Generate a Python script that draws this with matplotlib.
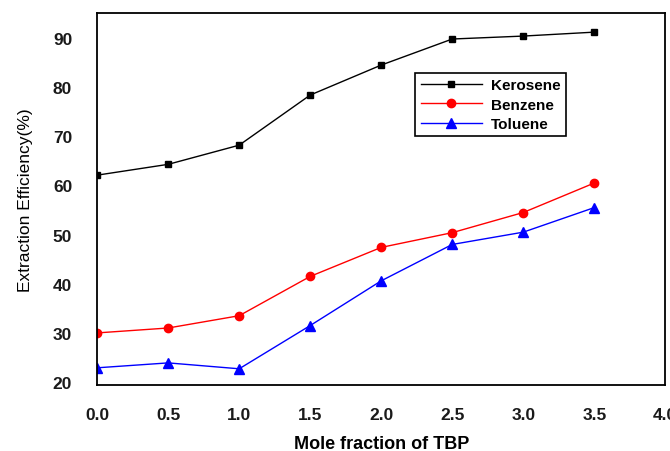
import matplotlib.pyplot as plt

# Mole fraction of TBP vs extraction efficiency
x = [0.0, 0.5, 1.0, 1.5, 2.0, 2.5, 3.0, 3.5]
kerosene = [62.1, 64.3, 68.2, 78.4, 84.5, 89.8, 90.4, 91.2]
benzene = [30.0, 31.0, 33.5, 41.5, 47.4, 50.4, 54.5, 60.5]
toluene = [22.9, 23.9, 22.7, 31.5, 40.6, 48.0, 50.5, 55.5]

xticks = [0.0, 0.5, 1.0, 1.5, 2.0, 2.5, 3.0, 3.5, 4.0]
yticks = [20, 30, 40, 50, 60, 70, 80, 90]

plt.rcParams['font.family'] = ['Liberation Sans', 'DejaVu Sans']

fig = plt.figure(figsize=(6.7, 4.52), dpi=100)
ax = fig.add_axes([0.145, 0.146, 0.848, 0.822])

ax.plot(x, kerosene, color='black', marker='s', markersize=5, linewidth=1, label='Kerosene')
ax.plot(x, benzene, color='red', marker='o', markersize=6, linewidth=1, label='Benzene')
ax.plot(x, toluene, color='blue', marker='^', markersize=7, linewidth=1, label='Toluene')

ax.set_xlim(0, 4.0)
ax.set_ylim(19.4, 95)
ax.set_xticks(xticks)
ax.set_xticklabels([f'{v:.1f}' for v in xticks], fontweight='bold', fontsize=12.5, color='#1a1a1a')
ax.set_yticks(yticks)
ax.set_yticklabels([str(v) for v in yticks], fontweight='bold', fontsize=12.5, color='#1a1a1a')
ax.tick_params(axis='both', length=0)
ax.tick_params(axis='x', pad=16)
ax.tick_params(axis='y', pad=18)

for s in ax.spines.values():
    s.set_linewidth(1.3)

ax.set_xlabel('Mole fraction of TBP', fontweight='bold', fontsize=13, labelpad=9)
ax.set_ylabel('Extraction Efficiency(%)', fontsize=12.5, labelpad=14)

leg = ax.legend(loc='upper left', bbox_to_anchor=(0.56, 0.84), fancybox=False,
                edgecolor='black', framealpha=1, borderaxespad=0,
                prop={'weight': 'bold', 'size': 11}, handlelength=4,
                labelspacing=0.35, borderpad=0.35, handletextpad=0.6)
leg.get_frame().set_linewidth(1.2)

fig.savefig('out.png', dpi=100)
